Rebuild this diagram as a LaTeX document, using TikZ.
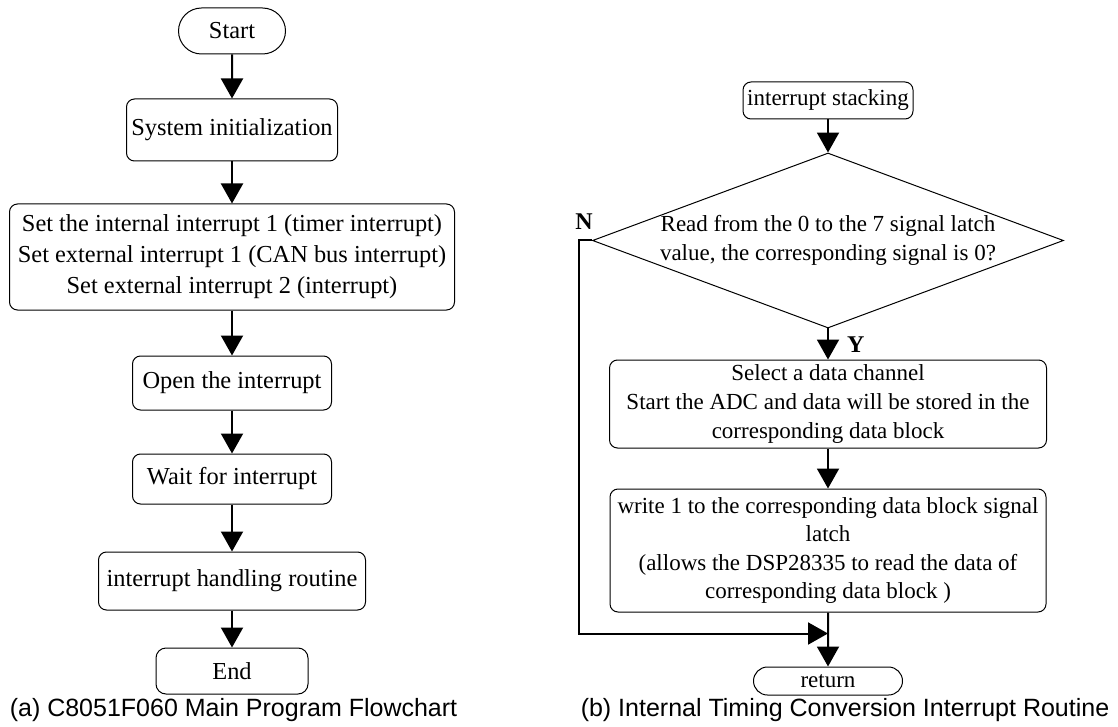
\documentclass[tikz,border=0pt]{standalone}
\usepackage{fontspec}
\setmainfont{Liberation Serif}
\setsansfont{Liberation Sans}
\usetikzlibrary{positioning, arrows.meta, shapes.geometric, shapes.misc}

\begin{document}
\begin{tikzpicture}[
    box/.style={rectangle, draw, line width=0.5pt, rounded corners=4pt, align=center, inner sep=2pt, font=\fontsize{12.2}{15.5}\selectfont},
    rbox/.style={box, font=\fontsize{11.5}{14.3}\selectfont},
    term/.style={rounded rectangle, draw, line width=0.5pt, inner sep=2pt, font=\fontsize{12.2}{15.5}\selectfont},
    decision/.style={diamond, draw, line width=0.5pt, inner sep=0pt, minimum width=235.5pt, minimum height=87.5pt},
    flow/.style={-{Triangle[length=10pt, width=11pt]}, line width=1pt},
    subcap/.style={font=\sffamily\fontsize{12.5}{14}\selectfont},
    yn/.style={font=\bfseries\fontsize{12}{14}\selectfont}
]
    \useasboundingbox (0,0) rectangle (559pt,-363.5pt);

    % (a) main program
    \node[term, minimum width=57.5pt, minimum height=23pt] (start) at (116pt,-15.5pt) {Start};
    \node[box, minimum width=105.5pt, minimum height=31pt, below=22pt of start] (init) {System initialization};
    \node[box, minimum width=222.5pt, minimum height=53pt, below=21pt of init] (setint) {Set the internal interrupt 1 (timer interrupt)\\ Set external interrupt 1 (CAN bus interrupt)\\ Set external interrupt 2 (interrupt)};
    \node[box, minimum width=99.5pt, minimum height=27pt, below=22.5pt of setint] (open) {Open the interrupt};
    \node[box, minimum width=99.5pt, minimum height=25pt, below=21.5pt of open] (wait) {Wait for interrupt};
    \node[box, minimum width=133.5pt, minimum height=29pt, below=23.5pt of wait] (handle) {interrupt handling routine};
    \node[box, rounded corners=5pt, minimum width=76pt, minimum height=23pt, below=18.5pt of handle] (stop) {End};

    \draw[flow] (start) -- (init);
    \draw[flow] (init) -- (setint);
    \draw[flow] (setint) -- (open);
    \draw[flow] (open) -- (wait);
    \draw[flow] (wait) -- (handle);
    \draw[flow] (handle) -- (stop);

    % (b) interrupt routine
    \node[rbox, minimum width=85pt, minimum height=18.5pt] (stack) at (414pt,-50.25pt) {interrupt stacking};
    \node[decision, below=16.5pt of stack] (read) {};
    \node[font=\fontsize{11.5}{14.3}\selectfont, align=center] (readtxt) at (read) {Read from the 0 to the 7 signal latch\\ value, the corresponding signal is 0?};
    \node[rbox, minimum width=218.5pt, minimum height=44pt, below=15.5pt of read] (sel) {Select a data channel\\ Start the ADC and data will be stored in the\\ corresponding data block};
    \node[rbox, minimum width=218pt, minimum height=61.5pt, below=20pt of sel] (wr) {write 1 to the corresponding data block signal\\ latch\\ (allows the DSP28335 to read the data of\\ corresponding data block )};
    \node[term, font=\fontsize{11.5}{14.3}\selectfont, minimum width=78.5pt, minimum height=14pt, below=27pt of wr] (ret) {return};
    \coordinate[below=10.5pt of wr.south] (join);

    \node[yn, below right=0.5pt and 6pt of read.south] (ylab) {Y};
    \node[yn, above=2pt of read.west, xshift=-4pt] (nlab) {N};

    \draw[flow] (stack) -- (read);
    \draw[flow] (read) -- (sel);
    \draw[flow] (sel) -- (wr);
    \draw[flow] (read.west) -- ++(-6.5pt,0) |- (join);
    \draw[flow] (wr) -- (ret);

    % captions
    \node[subcap] (capa) at (116.75pt,-355pt) {(a) C8051F060 Main Program Flowchart};
    \node[subcap] (capb) at (422.5pt,-355pt) {(b) Internal Timing Conversion Interrupt Routine};

\end{tikzpicture}
\end{document}
